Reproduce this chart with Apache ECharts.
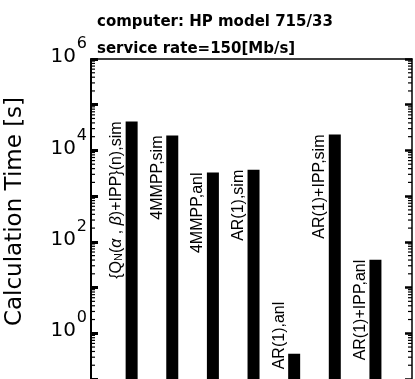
<!DOCTYPE html>
<html><head><meta charset="utf-8">
<script src="https://cdn.jsdelivr.net/npm/echarts@6/dist/echarts.min.js"></script>
<style>html,body{margin:0;padding:0;background:#fff}#c{width:415px;height:379px}</style>
</head><body><div id="c"></div>
<script>
// ---- data ----
const categories = ['{Q_N(α , β)+IPP}(n),sim', '4MMPP,sim', '4MMPP,anl', 'AR(1),sim', 'AR(1),anl', 'AR(1)+IPP,sim', 'AR(1)+IPP,anl'];
const values = [43000, 21200, 3300, 3780, 0.357, 22300, 40.7];
const titleLines = ['computer: HP model 715/33', 'service rate=150[Mb/s]'];
const yAxisName = 'Calculation Time [s]';
const yLabelBase = '10';
const yLabelExponents = [0, 2, 4, 6];
const minorMultipliers = [2, 3, 4, 5, 6, 7, 8, 9];
const minorDecades = [-1, 0, 1, 2, 3, 4, 5];

// ---- layout / style ----
const yMin = 0.1, yMax = 1e6, xMax = 7.9;
const barW = 12;
const FONT = '"Liberation Sans", Arial, Helvetica, sans-serif';
const WIDE = '"DejaVu Sans", "Liberation Sans", sans-serif';

const minorTicks = [];
minorDecades.forEach(d => minorMultipliers.forEach(m => minorTicks.push(m * Math.pow(10, d))));

const labelRich = {
  sub: { fontSize: 11, fontFamily: FONT, fill: '#000', verticalAlign: 'bottom' },
  g: { fontSize: 16, fontFamily: FONT, fontStyle: 'italic', fill: '#000' }
};
function labelText(name) {
  return name.replace('Q_N', 'Q{sub|N}').replace(/([αβ])/g, '{g|$1}');
}
const labelShift = [0, 0, 0, 0, -52, 0, 0];
const expOf = v => Math.round(Math.log10(v));
const shown = v => yLabelExponents.indexOf(expOf(v)) >= 0;

const logAxisBase = { type: 'log', logBase: 10, min: yMin, max: yMax, splitNumber: 7, splitLine: { show: false } };

const chart = echarts.init(document.getElementById('c'), null, { renderer: 'canvas' });
chart.setOption({
  animation: false,
  backgroundColor: '#fff',
  title: {
    text: titleLines.join('\n'),
    left: 97, top: 9, padding: 0,
    textStyle: { fontFamily: WIDE, fontWeight: 'bold', fontSize: 15, lineHeight: 27, color: '#000' }
  },
  grid: { left: 91, right: 3, top: 59, bottom: 0, containLabel: false, outerBoundsMode: 'none' },
  xAxis: {
    type: 'value', min: 0, max: xMax, position: 'top',
    axisLine: { show: true, lineStyle: { color: '#000', width: 1.5 } },
    axisTick: { show: false }, axisLabel: { show: false }, splitLine: { show: false }
  },
  yAxis: [Object.assign({}, logAxisBase, {
    position: 'left',
    name: yAxisName, nameLocation: 'middle', nameGap: 64,
    nameTextStyle: { fontFamily: WIDE, fontSize: 23, color: '#000', padding: [0, 0, 0, 15] },
    axisLine: { show: true, lineStyle: { color: '#000', width: 2 } },
    axisTick: { show: true, inside: true, length: 7, lineStyle: { color: '#000', width: 3 } },
    axisLabel: {
      margin: 15, verticalAlign: 'bottom', lineHeight: 4,
      fontFamily: WIDE, fontSize: 20, color: '#000',
      formatter: v => shown(v) ? yLabelBase : ''
    }
  }), Object.assign({}, logAxisBase, {
    position: 'right',
    axisLine: { show: true, lineStyle: { color: '#000', width: 1.5 } },
    axisTick: { show: true, inside: true, length: 7, lineStyle: { color: '#000', width: 2.5 } },
    axisLabel: { show: false }
  }), Object.assign({}, logAxisBase, {
    position: 'left',
    axisLine: { show: false }, axisTick: { show: false },
    axisLabel: {
      margin: 4, verticalAlign: 'bottom', lineHeight: 30,
      fontFamily: WIDE, fontSize: 16, color: '#000',
      formatter: v => shown(v) ? String(expOf(v)) : ''
    }
  })],
  series: [{
    type: 'custom',
    coordinateSystem: 'cartesian2d',
    data: minorTicks.map(v => [0, v]),
    silent: true,
    renderItem: (params, api) => {
      const l = api.coord([0, api.value(1)]);
      const r = api.coord([xMax, api.value(1)]);
      const len = 4;
      return { type: 'group', children: [
        { type: 'line', shape: { x1: l[0], y1: l[1], x2: l[0] + len, y2: l[1] }, style: { stroke: '#000', lineWidth: 1.2 } },
        { type: 'line', shape: { x1: r[0], y1: r[1], x2: r[0] - len, y2: r[1] }, style: { stroke: '#000', lineWidth: 1.2 } }
      ]};
    }
  }, {
    type: 'custom',
    coordinateSystem: 'cartesian2d',
    data: values.map((v, i) => [i + 1, v]),
    renderItem: (params, api) => {
      const i = params.dataIndex;
      const top = api.coord([api.value(0), api.value(1)]);
      const bot = api.coord([api.value(0), yMin]);
      const x0 = top[0] - barW / 2;
      return { type: 'group', children: [
        { type: 'rect', shape: { x: x0, y: top[1], width: barW, height: bot[1] - top[1] }, style: { fill: '#000' } },
        { type: 'text', x: x0 - 1, y: top[1] + labelShift[i], rotation: Math.PI / 2,
          style: { text: labelText(categories[i]), rich: labelRich, align: 'right', verticalAlign: 'bottom',
                   fontFamily: FONT, fontSize: 16, fill: '#000' } }
      ]};
    }
  }]
});
</script>
</body></html>
